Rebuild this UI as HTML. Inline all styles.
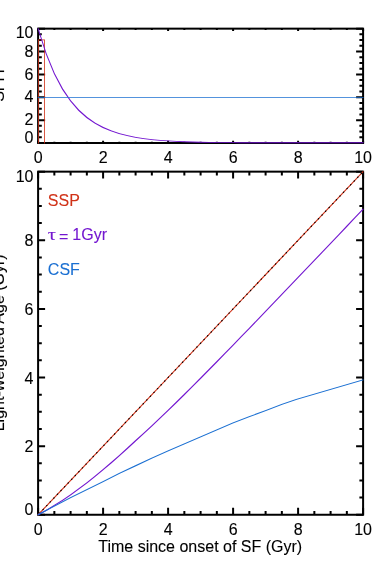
<!DOCTYPE html>
<html><head><meta charset="utf-8"><title>plot</title>
<style>html,body{margin:0;padding:0;background:#fff;}body{width:382px;height:572px;position:relative;overflow:hidden;font-family:"Liberation Sans",sans-serif;}</style>
</head><body>
<svg width="382" height="572" viewBox="0 0 382 572" style="position:absolute;left:0;top:0;display:block;will-change:transform" font-family="Liberation Sans, sans-serif" font-size="16" fill="#000">
<rect width="382" height="572" fill="#fff"/>
<g fill="none" stroke-linecap="butt" stroke-linejoin="miter" stroke-width="1">
<path d="M38.10 143.00v-2.32M38.10 28.65v2.32M38.10 143.00h7.00M363.10 143.00h-7.00M54.35 143.00v-1.25M54.35 28.65v1.25M38.10 137.28h3.70M363.10 137.28h-3.70M70.60 143.00v-1.25M70.60 28.65v1.25M38.10 131.56h3.70M363.10 131.56h-3.70M86.85 143.00v-1.25M86.85 28.65v1.25M38.10 125.85h3.70M363.10 125.85h-3.70M103.10 143.00v-2.32M103.10 28.65v2.32M38.10 120.13h7.00M363.10 120.13h-7.00M119.35 143.00v-1.25M119.35 28.65v1.25M38.10 114.41h3.70M363.10 114.41h-3.70M135.60 143.00v-1.25M135.60 28.65v1.25M38.10 108.70h3.70M363.10 108.70h-3.70M151.85 143.00v-1.25M151.85 28.65v1.25M38.10 102.98h3.70M363.10 102.98h-3.70M168.10 143.00v-2.32M168.10 28.65v2.32M38.10 97.26h7.00M363.10 97.26h-7.00M184.35 143.00v-1.25M184.35 28.65v1.25M38.10 91.54h3.70M363.10 91.54h-3.70M200.60 143.00v-1.25M200.60 28.65v1.25M38.10 85.83h3.70M363.10 85.83h-3.70M216.85 143.00v-1.25M216.85 28.65v1.25M38.10 80.11h3.70M363.10 80.11h-3.70M233.10 143.00v-2.32M233.10 28.65v2.32M38.10 74.39h7.00M363.10 74.39h-7.00M249.35 143.00v-1.25M249.35 28.65v1.25M38.10 68.67h3.70M363.10 68.67h-3.70M265.60 143.00v-1.25M265.60 28.65v1.25M38.10 62.96h3.70M363.10 62.96h-3.70M281.85 143.00v-1.25M281.85 28.65v1.25M38.10 57.24h3.70M363.10 57.24h-3.70M298.10 143.00v-2.32M298.10 28.65v2.32M38.10 51.52h7.00M363.10 51.52h-7.00M314.35 143.00v-1.25M314.35 28.65v1.25M38.10 45.80h3.70M363.10 45.80h-3.70M330.60 143.00v-1.25M330.60 28.65v1.25M38.10 40.09h3.70M363.10 40.09h-3.70M346.85 143.00v-1.25M346.85 28.65v1.25M38.10 34.37h3.70M363.10 34.37h-3.70M363.10 143.00v-2.32M363.10 28.65v2.32M38.10 28.65h7.00M363.10 28.65h-7.00" stroke="#000" stroke-width="2.0"/>
<rect x="38.1" y="28.65" width="325.0" height="114.35" stroke="#000" stroke-width="2.0"/>
<path d="M38.00 39.40L38.80 39.40L38.80 143.40L38.00 143.40ZM38.00 39.40L44.90 39.40L44.90 40.20L38.00 40.20ZM44.10 39.40L44.90 39.40L44.90 143.40L44.10 143.40Z" fill="#d03218" stroke="none"/>
<path d="M37.70 28.25L38.50 28.25L46.62 53.54L46.62 54.34L45.83 54.34L37.70 29.05ZM45.83 53.54L46.62 53.54L54.75 73.24L54.75 74.04L53.95 74.04L45.83 54.34ZM53.95 73.24L54.75 73.24L62.88 88.58L62.88 89.38L62.08 89.38L53.95 74.04ZM62.08 88.58L62.88 88.58L71.00 100.53L71.00 101.33L70.20 101.33L62.08 89.38ZM70.20 100.53L71.00 100.53L79.12 109.84L79.12 110.64L78.32 110.64L70.20 101.33ZM78.32 109.84L79.12 109.84L87.25 117.09L87.25 117.89L86.45 117.89L78.32 110.64ZM86.45 117.09L87.25 117.09L95.38 122.73L95.38 123.53L94.57 123.53L86.45 117.89ZM94.57 122.73L95.38 122.73L103.50 127.12L103.50 127.92L102.70 127.92L94.57 123.53ZM102.70 127.12L103.50 127.12L111.62 130.55L111.62 131.35L110.82 131.35L102.70 127.92ZM110.82 130.55L111.62 130.55L119.75 133.21L119.75 134.01L118.95 134.01L110.82 131.35ZM118.95 133.21L119.75 133.21L127.88 135.29L127.88 136.09L127.07 136.09L118.95 134.01ZM127.07 135.29L127.88 135.29L136.00 136.91L136.00 137.71L135.20 137.71L127.07 136.09ZM135.20 136.91L136.00 136.91L144.12 138.17L144.12 138.97L143.32 138.97L135.20 137.71ZM143.32 138.17L144.12 138.17L152.25 139.15L152.25 139.95L151.45 139.95L143.32 138.97ZM151.45 139.15L152.25 139.15L160.38 139.91L160.38 140.71L159.57 140.71L151.45 139.95ZM159.57 139.91L160.38 139.91L168.50 140.51L168.50 141.31L167.70 141.31L159.57 140.71ZM167.70 140.51L168.50 140.51L176.62 140.97L176.62 141.77L175.82 141.77L167.70 141.31ZM175.82 140.97L176.62 140.97L184.75 141.33L184.75 142.13L183.95 142.13L175.82 141.77ZM183.95 141.33L184.75 141.33L192.88 141.61L192.88 142.41L192.07 142.41L183.95 142.13ZM192.07 141.61L192.88 141.61L201.00 141.83L201.00 142.63L200.20 142.63L192.07 142.41ZM200.20 141.83L201.00 141.83L209.12 142.00L209.12 142.80L208.32 142.80L200.20 142.63ZM208.32 142.00L209.12 142.00L217.25 142.13L217.25 142.93L216.45 142.93L208.32 142.80ZM216.45 142.13L217.25 142.13L225.38 142.24L225.38 143.04L224.57 143.04L216.45 142.93ZM224.57 142.24L225.38 142.24L233.50 142.32L233.50 143.12L232.70 143.12L224.57 143.04ZM232.70 142.32L233.50 142.32L241.62 142.35L241.62 143.15L240.82 143.15L232.70 143.12ZM240.82 142.35L249.75 142.35L249.75 143.15L240.82 143.15ZM248.95 142.35L257.88 142.35L257.88 143.15L248.95 143.15ZM257.08 142.35L266.00 142.35L266.00 143.15L257.08 143.15ZM265.20 142.35L274.12 142.35L274.12 143.15L265.20 143.15ZM273.33 142.35L282.25 142.35L282.25 143.15L273.33 143.15ZM281.45 142.35L290.38 142.35L290.38 143.15L281.45 143.15ZM289.58 142.35L298.50 142.35L298.50 143.15L289.58 143.15ZM297.70 142.35L306.62 142.35L306.62 143.15L297.70 143.15ZM305.83 142.35L314.75 142.35L314.75 143.15L305.83 143.15ZM313.95 142.35L322.88 142.35L322.88 143.15L313.95 143.15ZM322.08 142.35L331.00 142.35L331.00 143.15L322.08 143.15ZM330.20 142.35L339.12 142.35L339.12 143.15L330.20 143.15ZM338.33 142.35L347.25 142.35L347.25 143.15L338.33 143.15ZM346.45 142.35L355.38 142.35L355.38 143.15L346.45 143.15ZM354.58 142.35L363.50 142.35L363.50 143.15L354.58 143.15Z" fill="#7316d0" stroke="none"/>
<path d="M37.70 96.90L363.50 96.90L363.50 97.70L37.70 97.70Z" fill="#1a6fd2" stroke="none"/>
<path d="M38.10 514.75v-6.96M38.10 171.65v6.96M38.10 514.75h7.00M363.10 514.75h-7.00M54.35 514.75v-3.76M54.35 171.65v3.76M38.10 497.60h3.70M363.10 497.60h-3.70M70.60 514.75v-3.76M70.60 171.65v3.76M38.10 480.44h3.70M363.10 480.44h-3.70M86.85 514.75v-3.76M86.85 171.65v3.76M38.10 463.28h3.70M363.10 463.28h-3.70M103.10 514.75v-6.96M103.10 171.65v6.96M38.10 446.13h7.00M363.10 446.13h-7.00M119.35 514.75v-3.76M119.35 171.65v3.76M38.10 428.98h3.70M363.10 428.98h-3.70M135.60 514.75v-3.76M135.60 171.65v3.76M38.10 411.82h3.70M363.10 411.82h-3.70M151.85 514.75v-3.76M151.85 171.65v3.76M38.10 394.66h3.70M363.10 394.66h-3.70M168.10 514.75v-6.96M168.10 171.65v6.96M38.10 377.51h7.00M363.10 377.51h-7.00M184.35 514.75v-3.76M184.35 171.65v3.76M38.10 360.36h3.70M363.10 360.36h-3.70M200.60 514.75v-3.76M200.60 171.65v3.76M38.10 343.20h3.70M363.10 343.20h-3.70M216.85 514.75v-3.76M216.85 171.65v3.76M38.10 326.04h3.70M363.10 326.04h-3.70M233.10 514.75v-6.96M233.10 171.65v6.96M38.10 308.89h7.00M363.10 308.89h-7.00M249.35 514.75v-3.76M249.35 171.65v3.76M38.10 291.74h3.70M363.10 291.74h-3.70M265.60 514.75v-3.76M265.60 171.65v3.76M38.10 274.58h3.70M363.10 274.58h-3.70M281.85 514.75v-3.76M281.85 171.65v3.76M38.10 257.43h3.70M363.10 257.43h-3.70M298.10 514.75v-6.96M298.10 171.65v6.96M38.10 240.27h7.00M363.10 240.27h-7.00M314.35 514.75v-3.76M314.35 171.65v3.76M38.10 223.11h3.70M363.10 223.11h-3.70M330.60 514.75v-3.76M330.60 171.65v3.76M38.10 205.96h3.70M363.10 205.96h-3.70M346.85 514.75v-3.76M346.85 171.65v3.76M38.10 188.80h3.70M363.10 188.80h-3.70M363.10 514.75v-6.96M363.10 171.65v6.96M38.10 171.65h7.00M363.10 171.65h-7.00" stroke="#000" stroke-width="2.0"/>
<rect x="38.1" y="171.65" width="325.0" height="343.1" stroke="#000" stroke-width="2.0"/>
<path d="M37.70 514.35L362.70 171.25L363.50 171.25L363.50 172.05L38.50 515.15L37.70 515.15Z" fill="#d03218" stroke="none"/>
<path d="M38.87 513.12L39.49 512.46L40.29 512.46L40.29 513.26L39.67 513.92L38.87 513.92ZM42.45 509.34L43.06 508.69L43.86 508.69L43.86 509.49L43.25 510.14L42.45 510.14ZM46.02 505.57L46.64 504.91L47.44 504.91L47.44 505.71L46.82 506.37L46.02 506.37ZM49.60 501.79L50.22 501.14L51.02 501.14L51.02 501.94L50.40 502.59L49.60 502.59ZM53.17 498.02L53.79 497.36L54.59 497.36L54.59 498.16L53.97 498.82L53.17 498.82ZM56.75 494.24L57.37 493.59L58.17 493.59L58.17 494.39L57.55 495.04L56.75 495.04ZM60.33 490.46L60.94 489.81L61.74 489.81L61.74 490.61L61.13 491.26L60.33 491.26ZM63.90 486.69L64.52 486.04L65.32 486.04L65.32 486.84L64.70 487.49L63.90 487.49ZM67.48 482.91L68.10 482.26L68.90 482.26L68.90 483.06L68.28 483.71L67.48 483.71ZM71.05 479.14L71.67 478.49L72.47 478.49L72.47 479.29L71.85 479.94L71.05 479.94ZM74.63 475.36L75.25 474.71L76.05 474.71L76.05 475.51L75.43 476.16L74.63 476.16ZM78.21 471.59L78.82 470.94L79.62 470.94L79.62 471.74L79.01 472.39L78.21 472.39ZM81.78 467.81L82.40 467.16L83.20 467.16L83.20 467.96L82.58 468.61L81.78 468.61ZM85.36 464.04L85.98 463.38L86.78 463.38L86.78 464.18L86.16 464.84L85.36 464.84ZM88.93 460.26L89.55 459.61L90.35 459.61L90.35 460.41L89.73 461.06L88.93 461.06ZM92.51 456.49L93.13 455.83L93.93 455.83L93.93 456.63L93.31 457.29L92.51 457.29ZM96.09 452.71L96.70 452.06L97.50 452.06L97.50 452.86L96.89 453.51L96.09 453.51ZM99.66 448.94L100.28 448.28L101.08 448.28L101.08 449.08L100.46 449.74L99.66 449.74ZM103.24 445.16L103.86 444.51L104.66 444.51L104.66 445.31L104.04 445.96L103.24 445.96ZM106.81 441.39L107.43 440.73L108.23 440.73L108.23 441.53L107.61 442.19L106.81 442.19ZM110.39 437.61L111.01 436.96L111.81 436.96L111.81 437.76L111.19 438.41L110.39 438.41ZM113.97 433.84L114.58 433.18L115.38 433.18L115.38 433.98L114.77 434.64L113.97 434.64ZM117.54 430.06L118.16 429.41L118.96 429.41L118.96 430.21L118.34 430.86L117.54 430.86ZM121.12 426.29L121.74 425.63L122.54 425.63L122.54 426.43L121.92 427.09L121.12 427.09ZM124.69 422.51L125.31 421.86L126.11 421.86L126.11 422.66L125.49 423.31L124.69 423.31ZM128.27 418.74L128.89 418.08L129.69 418.08L129.69 418.88L129.07 419.54L128.27 419.54ZM131.85 414.96L132.46 414.31L133.26 414.31L133.26 415.11L132.65 415.76L131.85 415.76ZM135.42 411.19L136.04 410.53L136.84 410.53L136.84 411.33L136.22 411.99L135.42 411.99ZM139.00 407.41L139.62 406.76L140.42 406.76L140.42 407.56L139.80 408.21L139.00 408.21ZM142.57 403.64L143.19 402.98L143.99 402.98L143.99 403.78L143.37 404.44L142.57 404.44ZM146.15 399.86L146.77 399.21L147.57 399.21L147.57 400.01L146.95 400.66L146.15 400.66ZM149.73 396.09L150.34 395.43L151.14 395.43L151.14 396.23L150.53 396.89L149.73 396.89ZM153.30 392.31L153.92 391.66L154.72 391.66L154.72 392.46L154.10 393.11L153.30 393.11ZM156.88 388.53L157.50 387.88L158.30 387.88L158.30 388.68L157.68 389.33L156.88 389.33ZM160.45 384.76L161.07 384.11L161.87 384.11L161.87 384.91L161.25 385.56L160.45 385.56ZM164.03 380.98L164.65 380.33L165.45 380.33L165.45 381.13L164.83 381.78L164.03 381.78ZM167.61 377.21L168.23 376.56L169.03 376.56L169.03 377.36L168.41 378.01L167.61 378.01ZM171.18 373.43L171.80 372.78L172.60 372.78L172.60 373.58L171.98 374.23L171.18 374.23ZM174.76 369.66L175.38 369.01L176.18 369.01L176.18 369.81L175.56 370.46L174.76 370.46ZM178.33 365.88L178.95 365.23L179.75 365.23L179.75 366.03L179.13 366.68L178.33 366.68ZM181.91 362.11L182.53 361.45L183.33 361.45L183.33 362.25L182.71 362.91L181.91 362.91ZM185.49 358.33L186.11 357.68L186.91 357.68L186.91 358.48L186.29 359.13L185.49 359.13ZM189.06 354.56L189.68 353.90L190.48 353.90L190.48 354.70L189.86 355.36L189.06 355.36ZM192.64 350.78L193.26 350.13L194.06 350.13L194.06 350.93L193.44 351.58L192.64 351.58ZM196.21 347.01L196.83 346.35L197.63 346.35L197.63 347.15L197.01 347.81L196.21 347.81ZM199.79 343.23L200.41 342.58L201.21 342.58L201.21 343.38L200.59 344.03L199.79 344.03ZM203.37 339.46L203.99 338.80L204.79 338.80L204.79 339.60L204.17 340.26L203.37 340.26ZM206.94 335.68L207.56 335.03L208.36 335.03L208.36 335.83L207.74 336.48L206.94 336.48ZM210.52 331.91L211.14 331.25L211.94 331.25L211.94 332.05L211.32 332.71L210.52 332.71ZM214.09 328.13L214.71 327.48L215.51 327.48L215.51 328.28L214.89 328.93L214.09 328.93ZM217.67 324.36L218.29 323.70L219.09 323.70L219.09 324.50L218.47 325.16L217.67 325.16ZM221.25 320.58L221.87 319.93L222.67 319.93L222.67 320.73L222.05 321.38L221.25 321.38ZM224.82 316.81L225.44 316.15L226.24 316.15L226.24 316.95L225.62 317.61L224.82 317.61ZM228.40 313.03L229.02 312.38L229.82 312.38L229.82 313.18L229.20 313.83L228.40 313.83ZM231.97 309.26L232.59 308.60L233.39 308.60L233.39 309.40L232.77 310.06L231.97 310.06ZM235.55 305.48L236.17 304.83L236.97 304.83L236.97 305.63L236.35 306.28L235.55 306.28ZM239.13 301.71L239.75 301.05L240.55 301.05L240.55 301.85L239.93 302.51L239.13 302.51ZM242.70 297.93L243.32 297.28L244.12 297.28L244.12 298.08L243.50 298.73L242.70 298.73ZM246.28 294.16L246.90 293.50L247.70 293.50L247.70 294.30L247.08 294.96L246.28 294.96ZM249.85 290.38L250.47 289.73L251.27 289.73L251.27 290.53L250.65 291.18L249.85 291.18ZM253.43 286.60L254.05 285.95L254.85 285.95L254.85 286.75L254.23 287.40L253.43 287.40ZM257.01 282.83L257.63 282.18L258.43 282.18L258.43 282.98L257.81 283.63L257.01 283.63ZM260.58 279.05L261.20 278.40L262.00 278.40L262.00 279.20L261.38 279.85L260.58 279.85ZM264.16 275.28L264.78 274.63L265.58 274.63L265.58 275.43L264.96 276.08L264.16 276.08ZM267.73 271.50L268.35 270.85L269.15 270.85L269.15 271.65L268.53 272.30L267.73 272.30ZM271.31 267.73L271.93 267.08L272.73 267.08L272.73 267.88L272.11 268.53L271.31 268.53ZM274.89 263.95L275.51 263.30L276.31 263.30L276.31 264.10L275.69 264.75L274.89 264.75ZM278.46 260.18L279.08 259.52L279.88 259.52L279.88 260.32L279.26 260.98L278.46 260.98ZM282.04 256.40L282.66 255.75L283.46 255.75L283.46 256.55L282.84 257.20L282.04 257.20ZM285.62 252.63L286.23 251.97L287.03 251.97L287.03 252.77L286.42 253.43L285.62 253.43ZM289.19 248.85L289.81 248.20L290.61 248.20L290.61 249.00L289.99 249.65L289.19 249.65ZM292.77 245.08L293.39 244.42L294.19 244.42L294.19 245.22L293.57 245.88L292.77 245.88ZM296.34 241.30L296.96 240.65L297.76 240.65L297.76 241.45L297.14 242.10L296.34 242.10ZM299.92 237.53L300.54 236.87L301.34 236.87L301.34 237.67L300.72 238.33L299.92 238.33ZM303.50 233.75L304.11 233.10L304.91 233.10L304.91 233.90L304.30 234.55L303.50 234.55ZM307.07 229.98L307.69 229.32L308.49 229.32L308.49 230.12L307.87 230.78L307.07 230.78ZM310.65 226.20L311.27 225.55L312.07 225.55L312.07 226.35L311.45 227.00L310.65 227.00ZM314.22 222.43L314.84 221.77L315.64 221.77L315.64 222.57L315.02 223.23L314.22 223.23ZM317.80 218.65L318.42 218.00L319.22 218.00L319.22 218.80L318.60 219.45L317.80 219.45ZM321.38 214.88L321.99 214.22L322.79 214.22L322.79 215.02L322.18 215.68L321.38 215.68ZM324.95 211.10L325.57 210.45L326.37 210.45L326.37 211.25L325.75 211.90L324.95 211.90ZM328.53 207.33L329.15 206.67L329.95 206.67L329.95 207.47L329.33 208.13L328.53 208.13ZM332.10 203.55L332.72 202.90L333.52 202.90L333.52 203.70L332.90 204.35L332.10 204.35ZM335.68 199.78L336.30 199.12L337.10 199.12L337.10 199.92L336.48 200.58L335.68 200.58ZM339.26 196.00L339.87 195.35L340.67 195.35L340.67 196.15L340.06 196.80L339.26 196.80ZM342.83 192.23L343.45 191.57L344.25 191.57L344.25 192.37L343.63 193.03L342.83 193.03ZM346.41 188.45L347.03 187.80L347.83 187.80L347.83 188.60L347.21 189.25L346.41 189.25ZM349.98 184.67L350.60 184.02L351.40 184.02L351.40 184.82L350.78 185.47L349.98 185.47ZM353.56 180.90L354.18 180.25L354.98 180.25L354.98 181.05L354.36 181.70L353.56 181.70ZM357.14 177.12L357.75 176.47L358.55 176.47L358.55 177.27L357.94 177.92L357.14 177.92ZM360.71 173.35L361.33 172.70L362.13 172.70L362.13 173.50L361.51 174.15L360.71 174.15Z" fill="#000" stroke="none"/>
<path d="M37.70 514.35L45.83 509.88L46.62 509.88L46.62 510.68L38.50 515.15L37.70 515.15ZM45.83 509.88L53.95 505.06L54.75 505.06L54.75 505.86L46.62 510.68L45.83 510.68ZM53.95 505.06L62.08 499.89L62.88 499.89L62.88 500.69L54.75 505.86L53.95 505.86ZM62.08 499.89L70.20 494.38L71.00 494.38L71.00 495.18L62.88 500.69L62.08 500.69ZM70.20 494.38L78.32 488.55L79.12 488.55L79.12 489.35L71.00 495.18L70.20 495.18ZM78.32 488.55L86.45 482.41L87.25 482.41L87.25 483.21L79.12 489.35L78.32 489.35ZM86.45 482.41L94.57 475.99L95.38 475.99L95.38 476.79L87.25 483.21L86.45 483.21ZM94.57 475.99L102.70 469.30L103.50 469.30L103.50 470.10L95.38 476.79L94.57 476.79ZM102.70 469.30L110.82 462.37L111.62 462.37L111.62 463.17L103.50 470.10L102.70 470.10ZM110.82 462.37L118.95 455.21L119.75 455.21L119.75 456.01L111.62 463.17L110.82 463.17ZM118.95 455.21L127.07 447.86L127.88 447.86L127.88 448.66L119.75 456.01L118.95 456.01ZM127.07 447.86L135.20 440.34L136.00 440.34L136.00 441.14L127.88 448.66L127.07 448.66ZM135.20 440.34L143.32 432.98L144.12 432.98L144.12 433.78L136.00 441.14L135.20 441.14ZM143.32 432.98L151.45 425.46L152.25 425.46L152.25 426.26L144.12 433.78L143.32 433.78ZM151.45 425.46L159.57 417.79L160.38 417.79L160.38 418.59L152.25 426.26L151.45 426.26ZM159.57 417.79L167.70 409.99L168.50 409.99L168.50 410.79L160.38 418.59L159.57 418.59ZM167.70 409.99L175.82 402.08L176.62 402.08L176.62 402.88L168.50 410.79L167.70 410.79ZM175.82 402.08L183.95 394.08L184.75 394.08L184.75 394.88L176.62 402.88L175.82 402.88ZM183.95 394.08L192.07 385.99L192.88 385.99L192.88 386.79L184.75 394.88L183.95 394.88ZM192.07 385.99L200.20 377.84L201.00 377.84L201.00 378.64L192.88 386.79L192.07 386.79ZM200.20 377.84L208.32 369.62L209.12 369.62L209.12 370.42L201.00 378.64L200.20 378.64ZM208.32 369.62L216.45 361.35L217.25 361.35L217.25 362.15L209.12 370.42L208.32 370.42ZM216.45 361.35L224.57 353.04L225.38 353.04L225.38 353.84L217.25 362.15L216.45 362.15ZM224.57 353.04L232.70 344.69L233.50 344.69L233.50 345.49L225.38 353.84L224.57 353.84ZM232.70 344.69L240.82 336.30L241.62 336.30L241.62 337.10L233.50 345.49L232.70 345.49ZM240.82 336.30L248.95 327.89L249.75 327.89L249.75 328.69L241.62 337.10L240.82 337.10ZM248.95 327.89L257.08 319.46L257.88 319.46L257.88 320.26L249.75 328.69L248.95 328.69ZM257.08 319.46L265.20 311.01L266.00 311.01L266.00 311.81L257.88 320.26L257.08 320.26ZM265.20 311.01L273.33 302.54L274.12 302.54L274.12 303.34L266.00 311.81L265.20 311.81ZM273.33 302.54L281.45 294.06L282.25 294.06L282.25 294.86L274.12 303.34L273.33 303.34ZM281.45 294.06L289.58 285.56L290.38 285.56L290.38 286.36L282.25 294.86L281.45 294.86ZM289.58 285.56L297.70 277.05L298.50 277.05L298.50 277.85L290.38 286.36L289.58 286.36ZM297.70 277.05L305.83 268.54L306.62 268.54L306.62 269.34L298.50 277.85L297.70 277.85ZM305.83 268.54L313.95 260.02L314.75 260.02L314.75 260.82L306.62 269.34L305.83 269.34ZM313.95 260.02L322.08 251.49L322.88 251.49L322.88 252.29L314.75 260.82L313.95 260.82ZM322.08 251.49L330.20 242.95L331.00 242.95L331.00 243.75L322.88 252.29L322.08 252.29ZM330.20 242.95L338.33 234.41L339.12 234.41L339.12 235.21L331.00 243.75L330.20 243.75ZM338.33 234.41L346.45 225.87L347.25 225.87L347.25 226.67L339.12 235.21L338.33 235.21ZM346.45 225.87L354.58 217.32L355.38 217.32L355.38 218.12L347.25 226.67L346.45 226.67ZM354.58 217.32L362.70 208.77L363.50 208.77L363.50 209.57L355.38 218.12L354.58 218.12Z" fill="#7316d0" stroke="none"/>
<path d="M37.70 514.35L53.95 505.64L54.75 505.64L54.75 506.44L38.50 515.15L37.70 515.15ZM53.95 505.64L70.20 497.30L71.00 497.30L71.00 498.10L54.75 506.44L53.95 506.44ZM70.20 497.30L86.45 489.24L87.25 489.24L87.25 490.04L71.00 498.10L70.20 498.10ZM86.45 489.24L102.70 481.14L103.50 481.14L103.50 481.94L87.25 490.04L86.45 490.04ZM102.70 481.14L118.95 473.01L119.75 473.01L119.75 473.81L103.50 481.94L102.70 481.94ZM118.95 473.01L135.20 465.36L136.00 465.36L136.00 466.16L119.75 473.81L118.95 473.81ZM135.20 465.36L151.45 457.70L152.25 457.70L152.25 458.50L136.00 466.16L135.20 466.16ZM151.45 457.70L167.70 450.40L168.50 450.40L168.50 451.20L152.25 458.50L151.45 458.50ZM167.70 450.40L183.95 443.47L184.75 443.47L184.75 444.27L168.50 451.20L167.70 451.20ZM183.95 443.47L200.20 436.57L201.00 436.57L201.00 437.37L184.75 444.27L183.95 444.27ZM200.20 436.57L216.45 429.43L217.25 429.43L217.25 430.23L201.00 437.37L200.20 437.37ZM216.45 429.43L232.70 422.54L233.50 422.54L233.50 423.34L217.25 430.23L216.45 430.23ZM232.70 422.54L248.95 416.19L249.75 416.19L249.75 416.99L233.50 423.34L232.70 423.34ZM248.95 416.19L265.20 410.32L266.00 410.32L266.00 411.12L249.75 416.99L248.95 416.99ZM265.20 410.32L281.45 404.04L282.25 404.04L282.25 404.84L266.00 411.12L265.20 411.12ZM281.45 404.04L296.08 398.90L296.88 398.90L296.88 399.70L282.25 404.84L281.45 404.84ZM296.08 398.90L362.70 379.44L363.50 379.44L363.50 380.24L296.88 399.70L296.08 399.70Z" fill="#1a6fd2" stroke="none"/>
</g>
<g stroke="#000" stroke-width="0.1">
<text x="33.5" y="143.30" text-anchor="end">0</text>
<text x="33.5" y="125.33" text-anchor="end">2</text>
<text x="33.5" y="102.46" text-anchor="end">4</text>
<text x="33.5" y="79.59" text-anchor="end">6</text>
<text x="33.5" y="56.72" text-anchor="end">8</text>
<text x="33.5" y="38.45" text-anchor="end">10</text>
<text x="38.10" y="162.70" text-anchor="middle">0</text>
<text x="103.10" y="162.70" text-anchor="middle">2</text>
<text x="168.10" y="162.70" text-anchor="middle">4</text>
<text x="233.10" y="162.70" text-anchor="middle">6</text>
<text x="298.10" y="162.70" text-anchor="middle">8</text>
<text x="363.10" y="162.70" text-anchor="middle">10</text>
<text x="33.5" y="515.05" text-anchor="end">0</text>
<text x="33.5" y="452.13" text-anchor="end">2</text>
<text x="33.5" y="383.51" text-anchor="end">4</text>
<text x="33.5" y="314.89" text-anchor="end">6</text>
<text x="33.5" y="246.27" text-anchor="end">8</text>
<text x="33.5" y="181.93" text-anchor="end">10</text>
<text x="38.10" y="534.50" text-anchor="middle">0</text>
<text x="103.10" y="534.50" text-anchor="middle">2</text>
<text x="168.10" y="534.50" text-anchor="middle">4</text>
<text x="233.10" y="534.50" text-anchor="middle">6</text>
<text x="298.10" y="534.50" text-anchor="middle">8</text>
<text x="363.10" y="534.50" text-anchor="middle">10</text>
<text x="200.2" y="551.9" text-anchor="middle">Time since onset of SF (Gyr)</text>
<text transform="translate(4,85.83) rotate(-90)" text-anchor="middle">SFR</text>
<rect x="0" y="67.5" width="7" height="9.7" fill="#fff" stroke="none"/>
<rect x="0" y="70.55" width="4.1" height="1.5" fill="#000" stroke="none"/>
<text transform="translate(4,342.8) rotate(-90)" text-anchor="middle">Light-weighted Age (Gyr)</text>
<text x="47.85" y="205.96" fill="#d03218" stroke="#d03218">SSP</text>
<text transform="translate(47.65,240.27) scale(1.28,1.04)" fill="#7316d0" stroke="#7316d0" font-family="Liberation Serif, serif">τ</text>
<text y="240.27" fill="#7316d0" stroke="#7316d0"><tspan x="59.05" dy="1.3">=</tspan><tspan x="72.35" dy="-1.3">1Gyr</tspan></text>
<text x="47.85" y="274.58" fill="#1a6fd2" stroke="#1a6fd2">CSF</text>
</g>
</svg>
</body></html>
